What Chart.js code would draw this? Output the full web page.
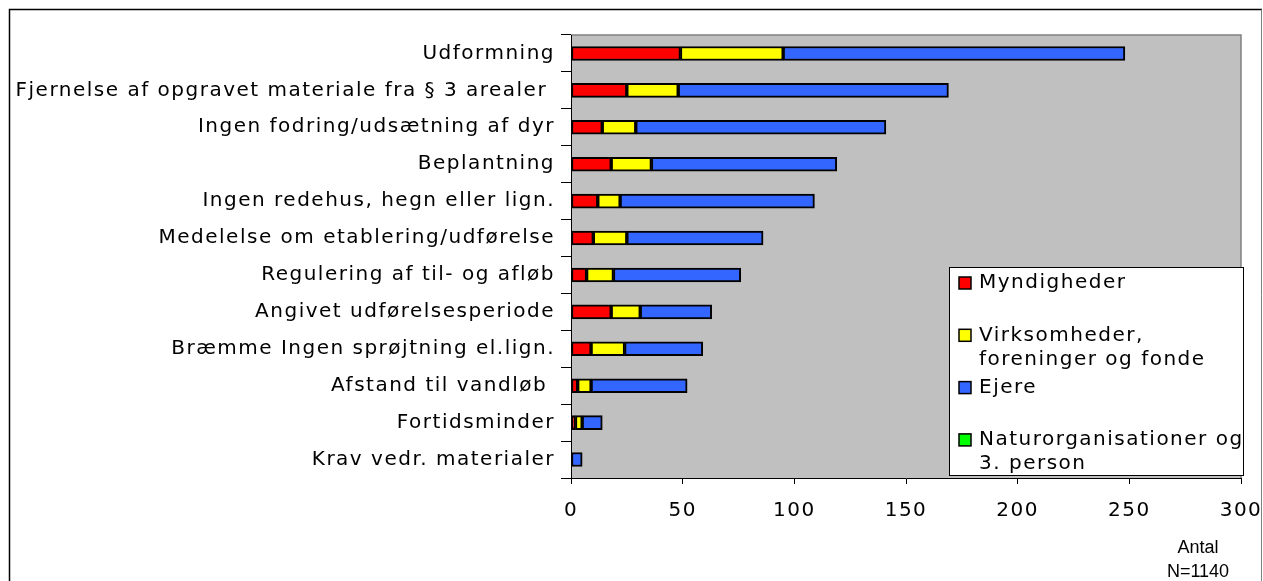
<!DOCTYPE html>
<html>
<head>
<meta charset="utf-8">
<script src="https://cdn.jsdelivr.net/npm/chart.js@4/dist/chart.umd.min.js"></script>
<style>
  html, body { margin: 0; padding: 0; background: #ffffff; }
  #c { display: block; }
</style>
</head>
<body>
<canvas id="c" width="1263" height="581"></canvas>
<script>
// ---- data ----
const categories = [
  "Udformning",
  "Fjernelse af opgravet materiale fra § 3 arealer ",
  "Ingen fodring/udsætning af dyr",
  "Beplantning",
  "Ingen redehus, hegn eller lign.",
  "Medelelse om etablering/udførelse",
  "Regulering af til- og afløb",
  "Angivet udførelsesperiode",
  "Bræmme Ingen sprøjtning el.lign.",
  "Afstand til vandløb ",
  "Fortidsminder",
  "Krav vedr. materialer"
];
const myndigheder  = [49, 25, 14, 18, 12, 10, 7, 18, 9, 3, 2, 0];
const virksomheder = [46, 23, 15, 18, 10, 15, 12, 13, 15, 6, 3, 0];
const ejere        = [153, 121, 112, 83, 87, 61, 57, 32, 35, 43, 9, 5];
const naturorg     = [0, 0, 0, 0, 0, 0, 0, 0, 0, 0, 0, 0];
const seriesLabels = ["Myndigheder", "Virksomheder, foreninger og fonde", "Ejere", "Naturorganisationer og 3. person"];
const legendLines  = [["Myndigheder"], ["Virksomheder,", "foreninger og fonde"], ["Ejere"], ["Naturorganisationer og", "3. person"]];
const seriesColors = ["#FF0000", "#FFFF00", "#3366FF", "#00FF00"];
const xMin = 0, xMax = 300, xStep = 50;
const axisTitleLines = ["Antal", "N=1140"];

const FONT = "'DejaVu Sans', Verdana, sans-serif";
const FSIZE = 20;
const SPACING = '1.5px';

function setSpacing(chart) { chart.ctx.letterSpacing = SPACING; }

const framePlugin = {
  id: 'frame',
  beforeUpdate: setSpacing,
  beforeLayout: setSpacing,
  beforeDraw(chart) {
    setSpacing(chart);
    const ctx = chart.ctx, a = chart.chartArea;
    ctx.save();
    ctx.fillStyle = '#ffffff';
    ctx.fillRect(0, 0, chart.width, chart.height);
    // outer frame
    ctx.strokeStyle = '#000000';
    ctx.lineWidth = 1.5;
    ctx.beginPath();
    ctx.moveTo(9.5, chart.height + 2);
    ctx.lineTo(9.5, 9.5);
    ctx.lineTo(1262, 9.5);
    ctx.stroke();
    ctx.strokeStyle = '#808080';
    ctx.lineWidth = 1;
    ctx.beginPath();
    ctx.moveTo(1261.5, 9.5);
    ctx.lineTo(1261.5, chart.height + 2);
    ctx.stroke();
    // plot area
    ctx.fillStyle = '#C0C0C0';
    ctx.fillRect(a.left, a.top, a.right - a.left, a.bottom - a.top);
    ctx.strokeStyle = '#808080';
    ctx.lineWidth = 1.5;
    ctx.beginPath();
    ctx.moveTo(a.left, a.top);
    ctx.lineTo(a.right, a.top);
    ctx.lineTo(a.right, a.bottom);
    ctx.stroke();
    ctx.restore();
  },
  afterDraw(chart) {
    const ctx = chart.ctx;
    ctx.save();
    ctx.letterSpacing = SPACING;
    // legend box
    const lx = 949, ly = 267, lw = 294, lh = 208;
    ctx.fillStyle = '#ffffff';
    ctx.fillRect(lx, ly, lw, lh);
    ctx.strokeStyle = '#000000';
    ctx.lineWidth = 1;
    ctx.strokeRect(lx + 0.5, ly + 0.5, lw, lh);
    ctx.font = FSIZE + "px " + FONT;
    ctx.textBaseline = 'middle';
    ctx.textAlign = 'left';
    chart.data.datasets.forEach((ds, i) => {
      const cy = 283 + i * 52.3;
      ctx.fillStyle = seriesColors[i];
      ctx.fillRect(959, cy - 6, 12, 12);
      ctx.strokeStyle = '#000000';
      ctx.lineWidth = 1.5;
      ctx.strokeRect(959, cy - 6, 12, 12);
      ctx.fillStyle = '#000000';
      legendLines[i].forEach((t, j) => ctx.fillText(t, 979, cy + j * 24));
    });
    // axis note
    ctx.letterSpacing = '0px';
    ctx.font = "18px 'Liberation Sans', Arial, sans-serif";
    ctx.textAlign = 'center';
    ctx.fillStyle = '#000000';
    axisTitleLines.forEach((t, j) => ctx.fillText(t, 1198, 548 + j * 24));
    ctx.restore();
  }
};

const bw = (c) => (c.raw ? 2 : 0);
const fill = (i) => (c) => (c.raw ? seriesColors[i] : 'rgba(0,0,0,0)');

new Chart(document.getElementById('c'), {
  type: 'bar',
  data: {
    labels: categories,
    datasets: [
      { label: seriesLabels[0], data: myndigheder,  backgroundColor: fill(0) },
      { label: seriesLabels[1], data: virksomheder, backgroundColor: fill(1) },
      { label: seriesLabels[2], data: ejere,        backgroundColor: fill(2) },
      { label: seriesLabels[3], data: naturorg,     backgroundColor: fill(3) }
    ].map(d => Object.assign(d, { borderColor: '#000000', borderWidth: bw, borderSkipped: false, barThickness: 14 }))
  },
  options: {
    indexAxis: 'y',
    responsive: false,
    animation: false,
    devicePixelRatio: 1,
    layout: { padding: { top: 35, right: 22, left: 0, bottom: 0 } },
    plugins: { legend: { display: false }, tooltip: { enabled: false } },
    scales: {
      x: {
        stacked: true,
        min: xMin, max: xMax,
        ticks: { stepSize: xStep, color: '#000000', font: { family: FONT, size: FSIZE }, padding: 15, maxRotation: 0 },
        grid: { drawOnChartArea: false, drawTicks: true, tickLength: 6, color: '#000000' },
        border: { display: true, color: '#000000', width: 1 },
        afterFit(s) { s.height = 103; s.paddingLeft = 0; s.paddingRight = 0; }
      },
      y: {
        stacked: true,
        ticks: { color: '#000000', font: { family: FONT, size: FSIZE }, padding: 6, autoSkip: false },
        grid: { offset: true, drawOnChartArea: false, drawTicks: true, tickLength: 10, color: '#000000' },
        border: { display: true, color: '#000000', width: 1 },
        afterFit(s) { s.width = 571; s.paddingTop = 0; s.paddingBottom = 0; }
      }
    }
  },
  plugins: [framePlugin]
});
</script>
</body>
</html>
